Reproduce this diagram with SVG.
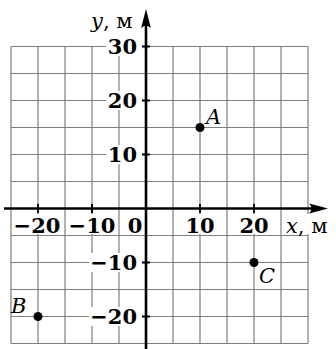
<svg xmlns="http://www.w3.org/2000/svg" width="336" height="349" viewBox="0 0 336 349">
<style>
.grid{stroke:#7f7f7f;stroke-width:1.2;fill:none}
.axis{stroke:#000;stroke-width:2.6;fill:none}
.tick{stroke:#000;stroke-width:2;fill:none}
.ko{fill:#fff}
.num{font-family:"DejaVu Serif","Liberation Serif",serif;font-weight:bold;font-size:21px;fill:#000}
.lbl{font-family:"DejaVu Serif","Liberation Serif",serif;font-size:21px;fill:#000}
.it{font-style:italic}
.pt{fill:#000}
</style>
<rect width="336" height="349" fill="#fff"/>
<g id="grid">
<path class="grid" d="M11 46.5V343.5M38 46.5V343.5M65 46.5V343.5M92 46.5V343.5M119 46.5V343.5M173 46.5V343.5M200 46.5V343.5M227 46.5V343.5M254 46.5V343.5M281 46.5V343.5M308 46.5V343.5M11 46.5H308M11 73.5H308M11 100.5H308M11 127.5H308M11 154.5H308M11 181.5H308M11 235.5H308M11 262.5H308M11 289.5H308M11 316.5H308M11 343.5H308"/>
</g>
<g id="knockouts">
<rect class="ko" x="106" y="37" width="36" height="19"/>
<rect class="ko" x="106" y="91" width="36" height="19"/>
<rect class="ko" x="106" y="145" width="36" height="19"/>
<rect class="ko" x="89" y="253" width="53" height="19"/>
<rect class="ko" x="89" y="307" width="53" height="19"/>
<rect class="ko" x="14" y="214" width="48" height="20"/>
<rect class="ko" x="68" y="214" width="48" height="20"/>
<rect class="ko" x="127" y="214" width="16" height="20"/>
<rect class="ko" x="184" y="214" width="32" height="20"/>
<rect class="ko" x="238" y="214" width="32" height="20"/>
<rect class="ko" x="284" y="214" width="52" height="20"/>
</g>
<g id="connectors">
<path class="axis" d="M4 208.5H318"/>
<path d="M328 208.5L309 203.6Q314 208.5 309 213.4Z" fill="#000"/>
<path class="axis" d="M146 349V19"/>
<path d="M146 9L141.1 28Q146 23 150.9 28Z" fill="#000"/>
<path class="tick" d="M142 46.5H150M142 100.5H150M142 154.5H150M142 262.5H150M142 316.5H150M38 204V213M92 204V213M200 204V213M254 204V213"/>
</g>
<g id="y-labels">
<text class="num" x="137" y="54" text-anchor="end">30</text>
<text class="num" x="137" y="108" text-anchor="end">20</text>
<text class="num" x="137" y="162" text-anchor="end">10</text>
<text class="num" x="137" y="270" text-anchor="end">−10</text>
<text class="num" x="137" y="324" text-anchor="end">−20</text>
</g>
<g id="x-labels">
<text class="num" x="37" y="233" text-anchor="middle">−20</text>
<text class="num" x="92" y="233" text-anchor="middle">−10</text>
<text class="num" x="135" y="233" text-anchor="middle">0</text>
<text class="num" x="200" y="233" text-anchor="middle">10</text>
<text class="num" x="254" y="233" text-anchor="middle">20</text>
</g>
<g id="axis-x-name"><text class="lbl" x="286" y="233"><tspan class="it">x</tspan>, м</text></g>
<g id="axis-y-name"><text class="lbl" x="91" y="28"><tspan class="it">y</tspan>, м</text></g>
<g id="point-A"><circle class="pt" cx="200" cy="127.5" r="4.5"/><text class="lbl it" x="206" y="124">A</text></g>
<g id="point-B"><circle class="pt" cx="38" cy="316.5" r="4.5"/><text class="lbl it" x="11" y="312.5">B</text></g>
<g id="point-C"><circle class="pt" cx="254" cy="262.5" r="4.5"/><text class="lbl it" x="259" y="283">C</text></g>
</svg>
